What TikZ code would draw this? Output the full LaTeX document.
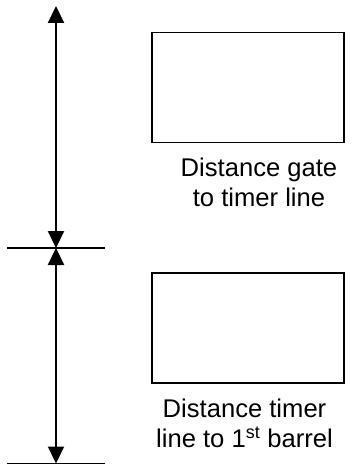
\documentclass[tikz,border=0pt]{standalone}
\usepackage{fontspec}
\setmainfont{Liberation Sans}
\usetikzlibrary{arrows.meta}
\begin{document}
\begin{tikzpicture}[x=1pt,y=-1pt,
  box/.style={draw,line width=1.6pt,minimum width=192pt,minimum height=110pt,inner sep=0pt},
  lbl/.style={align=center,inner sep=0pt,font=\fontsize{25.6}{29.5}\selectfont},
  dim/.style={line width=2.2pt,{Triangle[width=16pt,length=17pt]}-{Triangle[width=16pt,length=17pt]}},
  tick/.style={line width=1.5pt}]
\useasboundingbox (0,0) rectangle (359,465);
\node[box] (b1) at (248,87.7) {};
\node[box] (b2) at (248,327.7) {};
\node[lbl] (t1) at (259,182.5) {Distance gate\\to timer line};
\node[lbl] (t2) at (244.5,423.2) {Distance timer\\line to 1\textsuperscript{st} barrel};
\coordinate (top) at (56,6);
\coordinate (mid) at (56,248);
\coordinate (bot) at (56,463.5);
\coordinate (ml) at (7,248);
\coordinate (mr) at (105,248);
\coordinate (bl) at (7,463.5);
\coordinate (br) at (105,463.5);
\draw[tick] (ml) -- (mr);
\draw[tick] (bl) -- (br);
\draw[dim] (top) -- (mid);
\draw[dim] (mid) -- (bot);
\end{tikzpicture}
\end{document}
